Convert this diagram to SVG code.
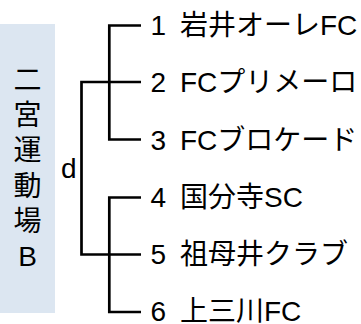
<svg xmlns="http://www.w3.org/2000/svg" width="361" height="324" viewBox="0 0 361 324">
<style>
text{font-family:"Liberation Sans","Noto Sans CJK JP",sans-serif;font-size:28px;fill:#000}
.v{text-anchor:middle}
.c{fill:none;stroke:#000;stroke-width:2.7;stroke-linecap:butt;stroke-linejoin:miter}
</style>
<rect x="0" y="24" width="55" height="289" fill="#dce6f1"/>
<g id="venue">
<text class="v" x="27.5" y="89.6">二</text>
<text class="v" x="27.5" y="125">宮</text>
<text class="v" x="27.5" y="160.4">運</text>
<text class="v" x="27.5" y="195.8">動</text>
<text class="v" x="27.5" y="231.2">場</text>
<text class="v" x="27.5" y="266">B</text>
</g>
<g id="connectors">
<path class="c" d="M141,25.5 H109.3 V139.5 H141"/>
<path class="c" d="M141,82 H81.5 V254.5 H141"/>
<path class="c" d="M141,197.5 H109.3 V312 H141"/>
</g>
<g id="d-label"><text x="61" y="178">d</text></g>
<g id="t1"><text x="150.5" y="35">1</text><text x="180" y="35">岩井オーレFC</text></g>
<g id="t2"><text x="150.5" y="92.3">2</text><text x="180" y="92.3">FCプリメーロ</text></g>
<g id="t3"><text x="150.5" y="149.6">3</text><text x="180" y="149.6">FCブロケード</text></g>
<g id="t4"><text x="150.5" y="206.9">4</text><text x="180" y="206.9">国分寺SC</text></g>
<g id="t5"><text x="150.5" y="264.2">5</text><text x="180" y="264.2">祖母井クラブ</text></g>
<g id="t6"><text x="150.5" y="320.5">6</text><text x="180" y="320.5">上三川FC</text></g>
</svg>
